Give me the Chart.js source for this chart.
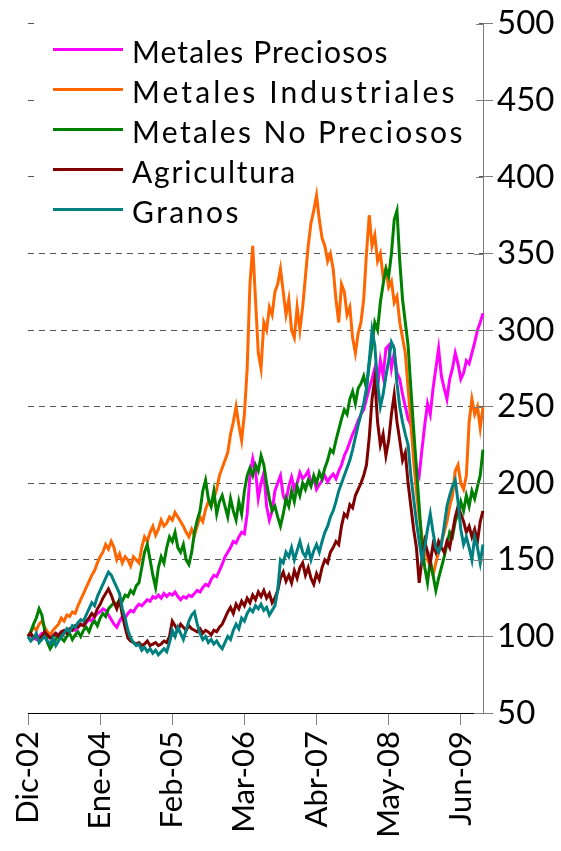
<!DOCTYPE html>
<html lang="es">
<head>
<meta charset="utf-8">
<title>Índices de metales y agricultura</title>
<script src="https://cdn.jsdelivr.net/npm/chart.js"></script>
<style>
  html, body { margin: 0; padding: 0; background: #fff; }
  #wrap { position: relative; width: 561px; height: 851px; }
  #grafico { position: absolute; left: 0; top: 0; }
  #leyenda-fondo { position: absolute; left: 36px; top: 22px; width: 440px; height: 158px; background: #fff; }
  #leyenda { position: absolute; left: 53px; top: 31px; font-family: Lato, sans-serif; font-size: 30px; color: #000; }
  .item { display: flex; align-items: center; height: 40px; white-space: nowrap; }
  .linea { width: 70px; height: 3px; margin-right: 9px; position: relative; top: -2px; }
</style>
</head>
<body>
<div id="wrap">
  <canvas id="grafico" width="561" height="851"></canvas>
  <div id="leyenda-fondo"></div>
  <div id="leyenda"></div>
</div>
<script>
  // etiquetas del eje x: una cada 13 meses (dos puntos por mes)
  const etiquetasEje = ['Dic-02', 'Ene-04', 'Feb-05', 'Mar-06', 'Abr-07', 'May-08', 'Jun-09'];
  const pasoEtiqueta = 26;

  const nombres = ['Metales Preciosos', 'Metales Industriales', 'Metales No Preciosos', 'Agricultura', 'Granos'];
  const colores = ['#ff00ff', '#ff6600', '#008000', '#800000', '#008080'];
  // espaciado de letras de cada texto de la leyenda (px)
  const espaciado = [1.1, 3.1, 2.4, 1.8, 2.5];

  // valores (índice, base 100 = Dic-02), dos por mes
  const metalesPreciosos = [
    100, 101, 99, 98, 100, 102, 101, 100, 99, 101,
    102, 101, 103, 102, 104, 103, 105, 104, 106, 108,
    107, 109, 111, 110, 113, 115, 116, 118, 117, 114,
    111, 108, 106, 110, 113, 112, 115, 117, 116, 119,
    121, 120, 122, 124, 123, 126, 125, 127, 125, 128,
    126, 128, 127, 129, 126, 124, 126, 125, 127, 126,
    128, 130, 129, 132, 134, 133, 137, 140, 139, 143,
    147, 152, 155, 158, 162, 161, 165, 168, 167, 180,
    205, 216, 208, 190, 200, 207, 185, 176, 182, 195,
    200, 205, 192, 188, 198, 204, 196, 200, 207, 203,
    205, 208, 200, 203, 196, 199, 202, 205, 201, 204,
    206, 203, 208, 212, 218, 222, 227, 232, 236, 241,
    245, 248, 255, 262, 268, 275, 262, 280, 270, 288,
    290, 275, 285, 272, 268, 258, 250, 242, 238, 225,
    210, 205, 222, 238, 252, 245, 262, 275, 288, 270,
    262, 255, 268, 275, 285, 278, 268, 272, 280, 278,
    285, 292, 300, 305, 311
  ];
  const metalesIndustriales = [
    100, 103, 106, 104, 108, 110, 106, 103, 101, 104,
    106, 108, 112, 110, 114, 113, 116, 115, 120, 124,
    128, 132, 136, 140, 143, 148, 152, 155, 160, 157,
    162, 158, 150, 154, 148, 152, 150, 146, 152, 150,
    148, 158, 165, 162, 168, 172, 166, 170, 176, 172,
    174, 178, 176, 181, 178, 175, 172, 168, 165, 170,
    166, 172, 178, 175, 183, 188, 185, 190, 196, 205,
    210, 215, 220, 232, 240, 250, 238, 228, 245, 275,
    330, 355, 320, 285, 275, 305, 300, 315, 310, 325,
    330, 340, 325, 310, 320, 300, 295, 315, 300, 315,
    335, 355, 370, 378, 388, 372, 360, 355, 345, 350,
    340, 320, 305, 330, 325, 310, 315, 295, 285, 298,
    305, 320, 350, 375, 355, 362, 345, 350, 335, 340,
    328, 332, 318, 322, 305, 295, 285, 262, 240, 215,
    195, 178, 165, 158, 150, 146, 140, 148, 155, 162,
    168, 175, 185, 192, 208, 212, 200, 196, 205, 240,
    255, 245, 250, 236, 250
  ];
  const metalesNoPreciosos = [
    100, 103, 108, 112, 118, 114, 104, 96, 92, 95,
    98, 101, 99, 97, 100, 102, 98, 101, 103, 100,
    104, 106, 103, 108, 110, 107, 112, 115, 113, 118,
    120, 122, 121, 124, 123, 127, 126, 130, 128, 133,
    135, 145, 155, 160, 150, 140, 132, 145, 152, 148,
    158, 165, 162, 168, 158, 155, 160, 150, 147, 155,
    168, 176, 182, 195, 202, 190, 185, 195, 180, 188,
    192, 185, 178, 190, 182, 176, 188, 180, 195, 205,
    210, 205, 212, 208, 218, 212, 200, 190, 182, 185,
    178, 172, 180, 190, 185, 195, 188, 198, 192, 200,
    196, 202, 198, 205, 200, 207, 203, 210, 215, 222,
    220, 228, 235, 242, 248, 245, 255, 260, 252, 262,
    265, 270, 262, 278, 290, 305, 300, 318, 330, 340,
    335, 350, 372, 378, 345, 320, 305, 290, 262, 235,
    210, 185, 160, 145, 135, 150, 140, 130, 138, 145,
    152, 160, 168, 165, 175, 180, 188, 182, 192, 185,
    195, 190, 198, 205, 222
  ];
  const agricultura = [
    100, 102, 99, 101, 98, 100, 103, 101, 99, 100,
    102, 100, 103, 104, 102, 105, 104, 107, 106, 108,
    107, 110, 112, 115, 113, 118, 121, 125, 128, 131,
    127, 122, 118, 124, 114, 106, 99, 97, 96, 95,
    96, 94, 95, 97, 94, 95, 96, 94, 95, 97,
    96, 100, 110, 107, 104, 108, 106, 104, 107, 105,
    104, 103, 105, 102, 104, 103, 101, 104, 103, 106,
    108, 112, 116, 119, 115, 121, 118, 123, 120, 125,
    122, 127, 124, 129, 126, 130, 125, 128, 122, 125,
    130, 138, 142, 136, 140, 135, 143, 138, 145, 148,
    140, 145, 138, 134, 141, 137, 145, 150, 148, 155,
    158, 162, 160, 172, 180, 178, 186, 184, 192, 196,
    200, 205, 212, 230, 255, 268, 240, 225, 232, 218,
    228, 245, 258, 240, 228, 215, 220, 200, 185, 170,
    158, 135, 150, 162, 155, 148, 160, 155, 162, 158,
    155, 162, 158, 168, 178, 185, 180, 175, 168, 172,
    165, 170, 162, 175, 182
  ];
  const granos = [
    100, 97, 99, 102, 96, 98, 100, 97, 95, 99,
    94, 97, 100, 102, 105, 103, 107, 106, 109, 111,
    110, 114, 118, 122, 120, 126, 130, 134, 138, 142,
    140, 136, 132, 128, 118, 112, 104, 99, 96, 94,
    95, 91, 93, 90, 92, 89, 91, 88, 90, 92,
    90, 96, 104, 100, 106, 102, 98, 104, 110, 114,
    116, 108, 102, 98, 100, 96, 98, 95, 97, 94,
    92, 96, 100, 98, 104, 108, 105, 112, 110, 115,
    118, 116, 120, 118, 121, 117, 119, 114, 117, 120,
    130, 150, 148, 155, 152, 158, 150, 156, 162, 155,
    152, 158, 150, 156, 160, 155, 162, 168, 172, 178,
    182, 188, 195, 200, 205, 210, 215, 222, 230, 238,
    245, 252, 262, 280, 300, 290, 265, 250, 258, 270,
    280, 292, 288, 265, 250, 240, 232, 225, 205, 190,
    175, 162, 150, 158, 170, 180, 168, 158, 155, 160,
    172, 185, 192, 198, 202, 188, 170, 160, 165, 158,
    150, 165, 158, 148, 160
  ];

  const series = [metalesPreciosos, metalesIndustriales, metalesNoPreciosos, agricultura, granos];

  const categorias = [];
  for (let i = 0; i < metalesPreciosos.length; i++) {
    categorias.push(i % pasoEtiqueta === 0 ? etiquetasEje[i / pasoEtiqueta] : '');
  }

  // leyenda en html, encima del área de trazado
  const leyenda = document.getElementById('leyenda');
  nombres.forEach((nombre, i) => {
    const item = document.createElement('div');
    item.className = 'item';
    const linea = document.createElement('span');
    linea.className = 'linea';
    linea.style.background = colores[i];
    const texto = document.createElement('span');
    texto.textContent = nombre;
    texto.style.letterSpacing = espaciado[i] + 'px';
    item.appendChild(linea);
    item.appendChild(texto);
    leyenda.appendChild(item);
  });

  // marcas del eje y hacia dentro (cruzan el eje)
  const marcasInternas = {
    id: 'marcasInternas',
    afterDatasetsDraw(chart) {
      const ejeY = chart.scales.y;
      const c = chart.ctx;
      const der = chart.chartArea.right;
      c.save();
      c.strokeStyle = '#7f7f7f';
      c.lineWidth = 1;
      c.beginPath();
      ejeY.ticks.forEach(t => {
        const py = Math.round(ejeY.getPixelForValue(t.value)) + 0.5;
        c.moveTo(der - 9, py);
        c.lineTo(der, py);
      });
      c.stroke();
      c.restore();
    }
  };

  function dibujar() {
    const ctx = document.getElementById('grafico').getContext('2d');
    new Chart(ctx, {
      type: 'line',
      data: {
        labels: categorias,
        datasets: series.map((datos, i) => ({
          label: nombres[i],
          data: datos,
          borderColor: colores[i],
          backgroundColor: colores[i],
          borderWidth: 3,
          pointRadius: 0,
          tension: 0,
          fill: false,
          order: series.length - i
        }))
      },
      options: {
        responsive: false,
        animation: false,
        devicePixelRatio: 1,
        layout: { padding: { left: 28, top: 16, right: 0, bottom: 0 } },
        plugins: {
          legend: { display: false },
          tooltip: { enabled: false }
        },
        scales: {
          x: {
            type: 'category',
            offset: false,
            grid: {
              drawOnChartArea: false,
              tickLength: 12,
              color: '#7f7f7f',
              tickColor: c => (c.tick && c.tick.label) ? '#7f7f7f' : 'rgba(0,0,0,0)'
            },
            border: { color: '#000', width: 1 },
            ticks: {
              autoSkip: false,
              maxRotation: 90,
              minRotation: 90,
              padding: 6,
              color: '#000',
              font: { family: 'Lato', size: 31 },
              callback: function (v) {
                const l = this.getLabelForValue(v);
                return l ? l : null;
              }
            },
            afterFit: s => { s.height = 138; }
          },
          y: {
            position: 'right',
            min: 50,
            max: 500,
            ticks: {
              stepSize: 50,
              padding: 4,
              color: '#000',
              font: { family: 'Lato', size: 33 }
            },
            grid: { color: '#555', lineWidth: 1, tickLength: 10, tickColor: '#7f7f7f' },
            border: { dash: [6, 5], color: '#7f7f7f' },
            afterFit: s => { s.width = 78; }
          }
        }
      },
      plugins: [marcasInternas]
    });
  }

  if (document.fonts && document.fonts.load) {
    document.fonts.load('33px Lato').then(dibujar, dibujar);
  } else {
    dibujar();
  }
</script>
</body>
</html>
